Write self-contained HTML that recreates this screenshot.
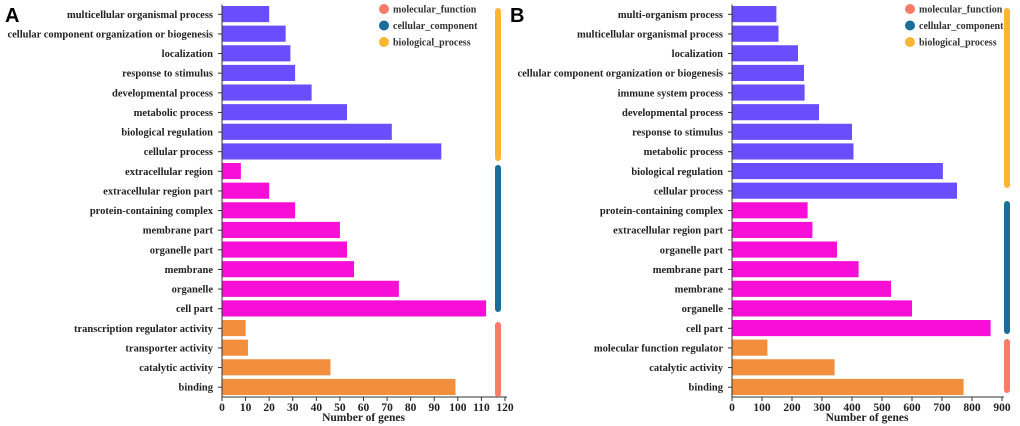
<!DOCTYPE html>
<html><head><meta charset="utf-8"><style>
html,body{margin:0;padding:0;background:#fff;}
svg{display:block;}
svg text{font-family:"Liberation Serif","Times New Roman",serif;}
.lab{font-size:10.5px;font-weight:bold;fill:#222;font-family:"Liberation Serif",serif;}
.tick{font-size:11.5px;font-weight:bold;fill:#222;font-family:"Liberation Serif",serif;}
.leg{font-size:10px;font-weight:bold;fill:#333;font-family:"Liberation Serif",serif;}
svg text.letter{font-family:"Liberation Sans",sans-serif;font-size:20px;font-weight:bold;}
</style></head><body>
<svg id="chart" width="1020" height="426" viewBox="0 0 1020 426"></svg>
<script>
const catsA=["multicellular organismal process","cellular component organization or biogenesis","localization","response to stimulus","developmental process","metabolic process","biological regulation","cellular process","extracellular region","extracellular region part","protein-containing complex","membrane part","organelle part","membrane","organelle","cell part","transcription regulator activity","transporter activity","catalytic activity","binding"];
const valsA=[20,27,29,31,38,53,72,93,8,20,31,50,53,56,75,112,10,11,46,99];
const groupA=[2,2,2,2,2,2,2,2,1,1,1,1,1,1,1,1,0,0,0,0];
const ticksA=[0,10,20,30,40,50,60,70,80,90,100,110,120];
const catsB=["multi-organism process","multicellular organismal process","localization","cellular component organization or biogenesis","immune system process","developmental process","response to stimulus","metabolic process","biological regulation","cellular process","protein-containing complex","extracellular region part","organelle part","membrane part","membrane","organelle","cell part","molecular function regulator","catalytic activity","binding"];
const valsB=[148,155,220,240,242,290,400,405,703,750,252,268,350,422,530,600,862,118,342,772];
const groupB=[2,2,2,2,2,2,2,2,2,2,1,1,1,1,1,1,1,0,0,0];
const ticksB=[0,100,200,300,400,500,600,700,800,900];
const legendNames=["molecular_function","cellular_component","biological_process"];

const barColors=["#f28e3c","#f70fd8","#6a4dfc"];
const legColors=["#fb7b6b","#1a6e99","#fcb533"];
const svg=document.getElementById('chart');
const NS='http://www.w3.org/2000/svg';
function mk(tag,attrs,parent){const e=document.createElementNS(NS,tag);for(const k in attrs)e.setAttribute(k,attrs[k]);(parent||svg).appendChild(e);return e;}

function panel(id,letter,letterX,x0,x1,maxV,cats,vals,groups,ticks,sideX,sideRanges,legX){
  const g=mk('g',{});
  
  
  const xs=v=>x0+(v/maxV)*(x1-x0);
  const top=4.5,bottom=397,n=cats.length,step=(bottom-top)/n;
  const ys=i=>top+i*step;
  const L=mk('text',{x:letterX,y:22,class:'letter',fill:'#000'},g);
  L.textContent=letter;
  
  
  cats.forEach((c,i)=>{
    const y=ys(i);
    const r=mk('rect',{x:x0,y:y+1.5,width:xs(vals[i])-x0,height:step-3.5,fill:barColors[groups[i]]},g);
    
    
    const t=mk('text',{x:x0-9,y:y+step/2+3.5,'text-anchor':'end',class:'lab'},g);
    t.textContent=c;
    
    
    mk('line',{x1:x0-4,x2:x0,y1:y+step/2,y2:y+step/2,stroke:'#333','stroke-width':1},g);
  });
  const ax=mk('line',{x1:x0,x2:x0,y1:top,y2:bottom,stroke:'#333','stroke-width':1},g);
  
  
  const xa=mk('line',{x1:x0,x2:x1+2,y1:bottom,y2:bottom,stroke:'#333','stroke-width':1},g);
  
  
  ticks.forEach(v=>{
    mk('line',{x1:xs(v),x2:xs(v),y1:bottom,y2:bottom+4,stroke:'#333'},g);
    const t=mk('text',{x:xs(v),y:bottom+14,'text-anchor':'middle',class:'tick'},g);
    t.textContent=v;
    
    
  });
  const xt=mk('text',{x:(x0+x1)/2,y:421,'text-anchor':'middle',class:'tick'},g);
  xt.textContent='Number of genes';
  
  
  sideRanges.forEach((r,k)=>{
    const s=mk('rect',{x:sideX,y:r[0],width:6,height:r[1]-r[0],rx:3,fill:legColors[k]},g);
    
    
  });
  legendNames.forEach((nm,k)=>{
    const c=mk('circle',{cx:legX,cy:9+k*16.5,r:5,fill:legColors[k]},g);
    
    
    const t=mk('text',{x:legX+9,y:12.5+k*16.5,class:'leg'},g);
    t.textContent=nm;
    
    
  });
}
panel('a','A',5,222,505,120,catsA,valsA,groupA,ticksA,495,[[322,397],[165,312],[8,161]],384);
panel('b','B',510,732,1002,900,catsB,valsB,groupB,ticksB,1004,[[339,393],[201,334],[8,188]],910);
</script>
</body></html>
